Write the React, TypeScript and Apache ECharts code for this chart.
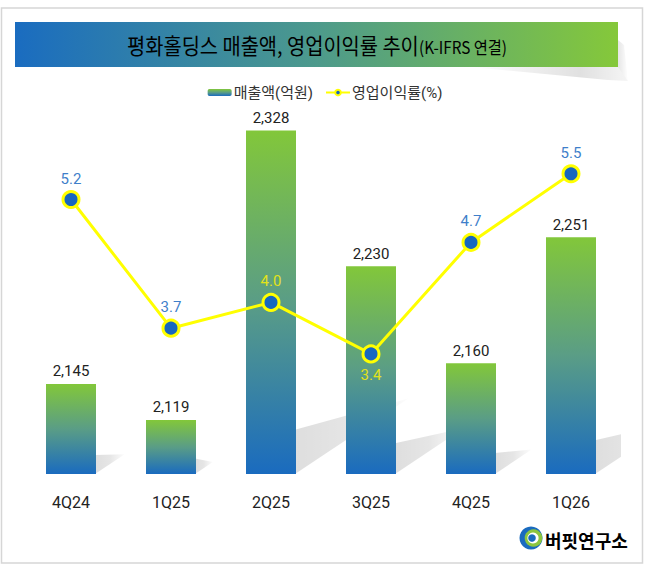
import React, { useEffect, useRef } from 'react';
import * as echarts from 'echarts';

const categories = ['4Q24', '1Q25', '2Q25', '3Q25', '4Q25', '1Q26'];
const revenue = [2145, 2119, 2328, 2230, 2160, 2251];
const opMargin = [5.2, 3.7, 4.0, 3.4, 4.7, 5.5];
const seriesNames = ['매출액(억원)', '영업이익률(%)'];
const titleMain = '평화홀딩스 매출액, 영업이익률 추이';
const titleSub = '(K-IFRS 연결)';

const REV_MIN = 2080;
const REV_MAX = 2350;
const PCT_MIN = 2;
const PCT_MAX = 6.36;

const FONT = "Roboto, 'Noto Sans CJK KR', sans-serif";
const KFONT = "'Noto Sans CJK KR', sans-serif";
const BLUE_LABEL = '#3f7fca';
const YELLOW_LABEL = '#e2e21a';

export default function App() {
  const ref = useRef<HTMLDivElement>(null);

  useEffect(() => {
    const chart = echarts.init(ref.current!, null, { renderer: 'svg' });

    const barGradient = new echarts.graphic.LinearGradient(0, 0, 0, 1, [
      { offset: 0, color: '#82c73a' },
      { offset: 0.5, color: '#5a9d86' },
      { offset: 1, color: '#1a6bbf' },
    ]);

    // label style per point: lowest point labelled below, points over a bar get a yellow label
    const labelBelow = (i: number) => opMargin[i] === Math.min(...opMargin);
    const overBar = (i: number) => {
      const pctPos = (opMargin[i] - PCT_MIN) / (PCT_MAX - PCT_MIN);
      const revPos = (revenue[i] - REV_MIN) / (REV_MAX - REV_MIN);
      return pctPos < revPos;
    };

    const option: any = {
      animation: false,
      textStyle: { fontFamily: FONT },
      grid: { left: 21, right: 29, top: 100, bottom: 93 },
      legend: {
        data: seriesNames,
        top: 80,
        left: 'center',
        itemWidth: 24,
        itemHeight: 7,
        itemGap: 12,
        textStyle: { fontSize: 15, color: '#333', fontFamily: FONT, padding: [0, 0, 0, -3] },
      },
      xAxis: {
        type: 'category',
        data: categories,
        axisLine: { show: false },
        axisTick: { show: false },
        axisLabel: { fontSize: 16, color: '#222', margin: 20, fontFamily: FONT },
      },
      yAxis: [
        { type: 'value', min: REV_MIN, max: REV_MAX, show: false },
        { type: 'value', min: PCT_MIN, max: PCT_MAX, show: false },
      ],
      series: [
        {
          type: 'custom',
          name: 'shadow',
          yAxisIndex: 0,
          z: 1,
          clip: true,
          silent: true,
          data: revenue.map((v, i) => [i, v]),
          renderItem: (params: any, api: any) => {
            const idx = api.value(0);
            const v = api.value(1);
            const top = api.coord([idx, v]);
            const base = api.coord([idx, REV_MIN]);
            const xR = top[0] + 24;
            const yB = base[1];
            const h = yB - top[1];
            return {
              type: 'polygon',
              shape: {
                points: [
                  [xR, yB],
                  [xR, yB - (10 + 0.1 * h)],
                  [xR + 0.33 * h, yB - 0.22 * h],
                ],
              },
              style: {
                fill: new echarts.graphic.LinearGradient(0, 0, 1, 0, [
                  { offset: 0, color: 'rgba(0,0,0,0.13)' },
                  { offset: 0.5, color: 'rgba(0,0,0,0.10)' },
                  { offset: 1, color: 'rgba(0,0,0,0.01)' },
                ]),
              },
            };
          },
        },
        {
          type: 'bar',
          name: seriesNames[0],
          yAxisIndex: 0,
          barWidth: 50,
          z: 2,
          data: revenue,
          itemStyle: { color: barGradient },
          label: {
            show: true,
            position: 'top',
            distance: 5,
            fontSize: 15,
            color: '#222',
            fontFamily: FONT,
            formatter: (p: any) => Number(p.value).toLocaleString('en-US'),
          },
        },
        {
          type: 'line',
          name: seriesNames[1],
          yAxisIndex: 1,
          z: 3,
          symbol: 'circle',
          symbolSize: 16,
          lineStyle: { color: '#ffff00', width: 3 },
          itemStyle: { color: '#1767c0', borderColor: '#ffff00', borderWidth: 3 },
          data: opMargin.map((v, i) => ({
            value: v,
            label: {
              show: true,
              position: labelBelow(i) ? 'bottom' : 'top',
              distance: 4,
              fontSize: 15,
              fontFamily: FONT,
              color: overBar(i) ? YELLOW_LABEL : BLUE_LABEL,
              formatter: (p: any) => Number(p.value).toFixed(1),
            },
          })),
        },
      ],
      graphic: [
        {
          type: 'rect',
          shape: { x: 1.5, y: 8, width: 641, height: 555 },
          style: { fill: 'none', stroke: '#d6d6d6', lineWidth: 1.5 },
          z: 0,
        },
        {
          type: 'polygon',
          shape: { points: [[470, 67], [618, 67], [628, 81], [608, 80]] },
          style: {
            fill: new echarts.graphic.LinearGradient(0, 0, 1, 0, [
              { offset: 0, color: 'rgba(0,0,0,0)' },
              { offset: 0.7, color: 'rgba(0,0,0,0.12)' },
              { offset: 1, color: 'rgba(0,0,0,0.04)' },
            ]),
          },
          z: 5,
        },
        {
          type: 'polygon',
          shape: { points: [[618, 40], [624, 45], [628, 81], [618, 67]] },
          style: {
            fill: new echarts.graphic.LinearGradient(0, 0, 1, 0, [
              { offset: 0, color: 'rgba(0,0,0,0.10)' },
              { offset: 1, color: 'rgba(0,0,0,0.0)' },
            ]),
          },
          z: 5,
        },
        {
          type: 'rect',
          shape: { x: 15, y: 22, width: 603, height: 45 },
          style: {
            fill: new echarts.graphic.LinearGradient(0, 0, 1, 0, [
              { offset: 0, color: '#1a6cc0' },
              { offset: 0.5, color: '#4d9a8c' },
              { offset: 1, color: '#85c83a' },
            ]),
          },
          z: 6,
        },
        {
          type: 'text',
          x: 317,
          y: 45,
          scaleX: 0.9,
          style: {
            text: `{a|${titleMain}}{b|${titleSub}}`,
            align: 'center',
            verticalAlign: 'middle',
            rich: {
              a: { fontSize: 22, color: '#ffffff', fontFamily: KFONT },
              b: { fontSize: 17, color: '#ffffff', fontFamily: KFONT, padding: [3, 0, 0, 0] },
            },
          },
          z: 7,
        },
        // logo
        {
          type: 'circle',
          shape: { cx: 531, cy: 538, r: 11.5 },
          style: { fill: '#1a6bbf' },
          z: 5,
        },
        {
          type: 'circle',
          shape: { cx: 533.5, cy: 538, r: 8.8 },
          style: { fill: '#8cc63f' },
          z: 6,
        },
        {
          type: 'circle',
          shape: { cx: 533, cy: 538, r: 5.6 },
          style: { fill: '#ffffff' },
          z: 7,
        },
        {
          type: 'circle',
          shape: { cx: 532, cy: 538, r: 3.8 },
          style: { fill: '#1a6bbf' },
          z: 8,
        },
        {
          type: 'text',
          x: 545,
          y: 540,
          style: {
            text: '{a|버핏}{b|연구소}',
            align: 'left',
            verticalAlign: 'middle',
            rich: {
              a: { fontSize: 18, fontWeight: 'bold', color: '#1a6bbf', fontFamily: KFONT },
              b: { fontSize: 18, fontWeight: 'bold', color: '#8cc63f', fontFamily: KFONT },
            },
          },
          z: 5,
        },
      ],
    };

    chart.setOption(option);
    return () => chart.dispose();
  }, []);

  return (
    <div
      ref={ref}
      style={{ position: 'absolute', left: 0, top: 0, width: 650, height: 567, background: '#ffffff' }}
    />
  );
}
